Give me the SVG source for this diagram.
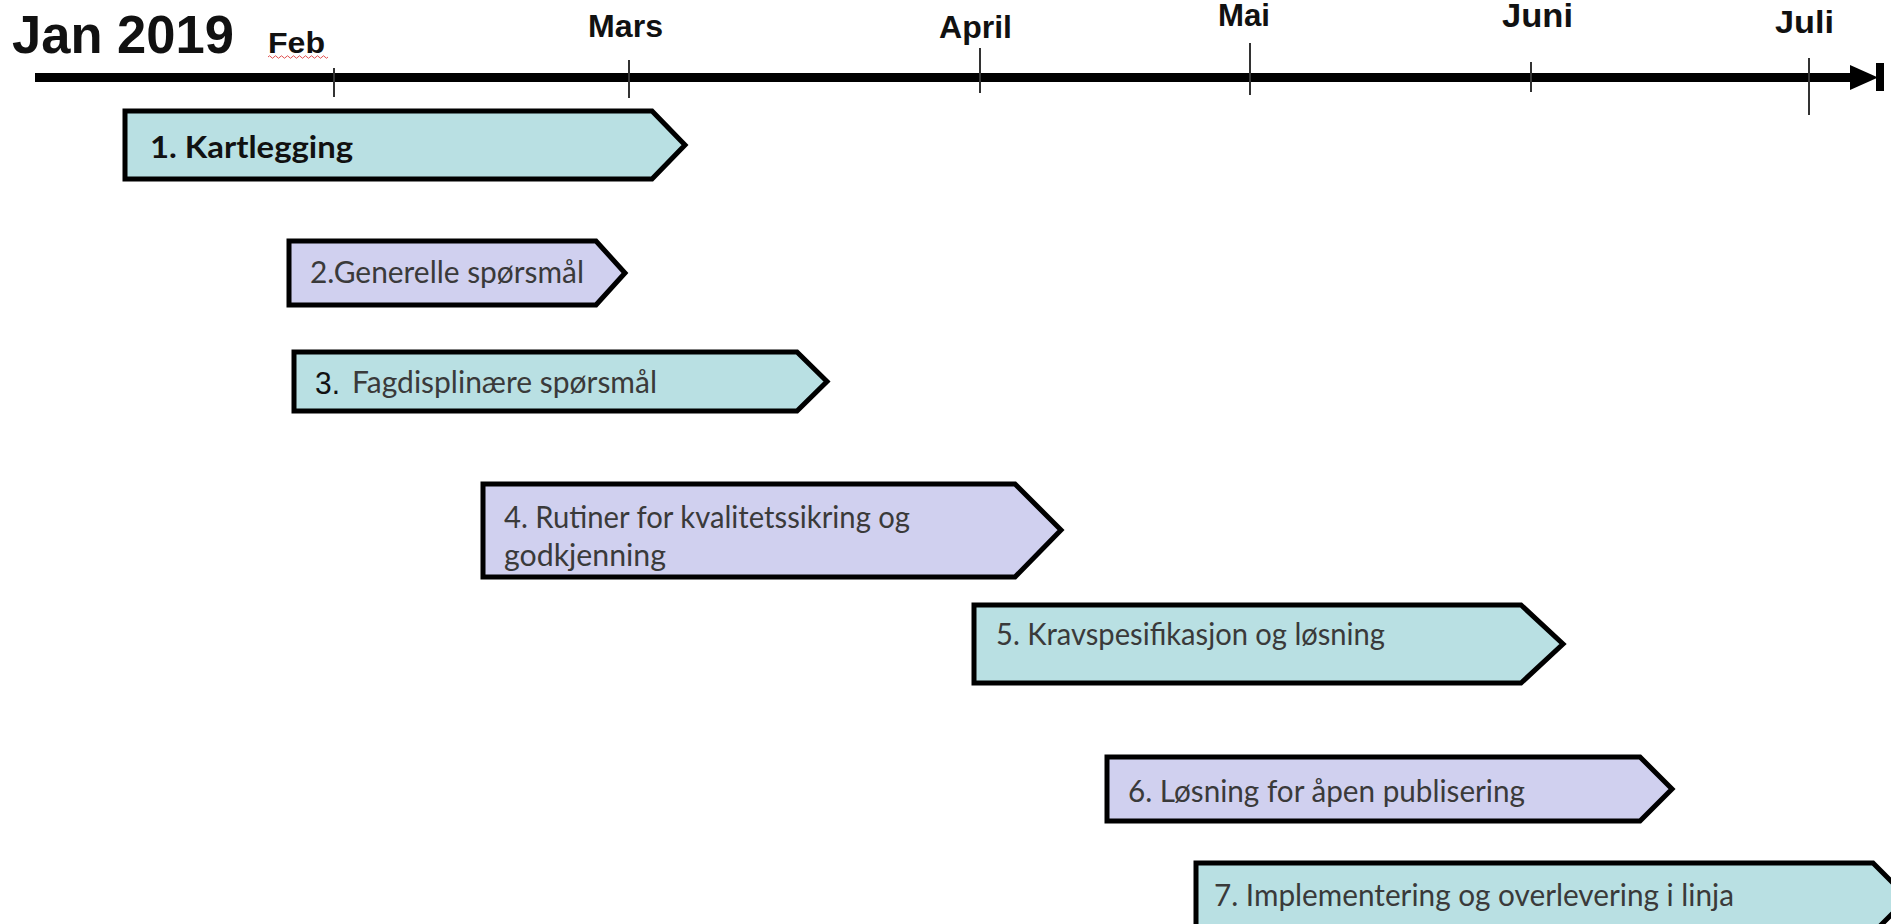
<svg xmlns="http://www.w3.org/2000/svg" width="1891" height="924" viewBox="0 0 1891 924">
<style>
.month{font-family:"Liberation Sans",Arial,sans-serif;font-weight:bold;fill:#111}
.tick{stroke:#333;stroke-width:2}
.box{stroke:#000;stroke-width:5;stroke-linejoin:miter}
.teal{fill:#b9e0e3}
.lav{fill:#d0d0ef}
.lbl{font-family:Lato,"Open Sans",sans-serif;font-size:30px;fill:#3a3a3a}
</style>
<rect width="1891" height="924" fill="#fff"/>
<g id="axis">
<line x1="35" y1="77.5" x2="1856" y2="77.5" stroke="#000" stroke-width="9"/>
<polygon points="1850,65 1878,77.5 1850,90" fill="#000"/>
<rect x="1876" y="63" width="8" height="28" fill="#000"/>
<line class="tick" x1="334" y1="68" x2="334" y2="97"/>
<line class="tick" x1="629" y1="60" x2="629" y2="98"/>
<line class="tick" x1="980" y1="48" x2="980" y2="93"/>
<line class="tick" x1="1250" y1="43" x2="1250" y2="95"/>
<line class="tick" x1="1531" y1="62" x2="1531" y2="92" stroke="#777"/>
<line class="tick" x1="1809" y1="58" x2="1809" y2="115"/>
</g>
<g id="labels">
<text class="month" x="12" y="53" font-size="54" textLength="222" lengthAdjust="spacingAndGlyphs">Jan 2019</text>
<text class="month" x="268" y="53" font-size="29" textLength="57" lengthAdjust="spacingAndGlyphs">Feb</text>
<path d="M268,57 q1.5,-2.5 3,0 t3,0 t3,0 t3,0 t3,0 t3,0 t3,0 t3,0 t3,0 t3,0 t3,0 t3,0 t3,0 t3,0 t3,0 t3,0 t3,0 t3,0 t3,0 t3,0" fill="none" stroke="#e05050" stroke-width="1"/>
<text class="month" x="588" y="37" font-size="31" textLength="75" lengthAdjust="spacingAndGlyphs">Mars</text>
<text class="month" x="939" y="38" font-size="32" textLength="73" lengthAdjust="spacingAndGlyphs">April</text>
<text class="month" x="1218" y="26" font-size="31" textLength="52" lengthAdjust="spacingAndGlyphs">Mai</text>
<text class="month" x="1502" y="27" font-size="33" textLength="71" lengthAdjust="spacingAndGlyphs">Juni</text>
<text class="month" x="1775" y="33" font-size="32" textLength="59" lengthAdjust="spacingAndGlyphs">Juli</text>
</g>
<g id="task1">
<polygon class="box teal" points="125,111 652,111 685,145 652,179 125,179"/>
<text class="lbl" x="150" y="158" font-weight="bold" style="fill:#111" textLength="203" lengthAdjust="spacingAndGlyphs">1. Kartlegging</text>
</g>
<g id="task2">
<polygon class="box lav" points="289,241 596,241 625,273 596,305 289,305"/>
<text class="lbl" x="310" y="283" textLength="274" lengthAdjust="spacingAndGlyphs">2.Generelle spørsmål</text>
</g>
<g id="task3">
<polygon class="box teal" points="294,352 797,352 827,381.5 797,411 294,411"/>
<text x="315" y="394" font-family="Liberation Sans,Arial,sans-serif" font-size="31" fill="#111" textLength="25" lengthAdjust="spacingAndGlyphs">3.</text>
<text class="lbl" x="352" y="393" textLength="305" lengthAdjust="spacingAndGlyphs">Fagdisplinære spørsmål</text>
</g>
<g id="task4">
<polygon class="box lav" points="483,484 1015,484 1061,530 1015,577 483,577"/>
<text class="lbl" x="504" y="528" textLength="406" lengthAdjust="spacingAndGlyphs">4. Rutiner for kvalitetssikring og</text>
<text class="lbl" x="504" y="566" textLength="162" lengthAdjust="spacingAndGlyphs">godkjenning</text>
</g>
<g id="task5">
<polygon class="box teal" points="974,605 1521,605 1563,644 1521,683 974,683"/>
<text class="lbl" x="996" y="645" textLength="389" lengthAdjust="spacingAndGlyphs">5. Kravspesifikasjon og løsning</text>
</g>
<g id="task6">
<polygon class="box lav" points="1107,757 1640,757 1672,789 1640,821 1107,821"/>
<text class="lbl" x="1128" y="802" textLength="397" lengthAdjust="spacingAndGlyphs">6. Løsning for åpen publisering</text>
</g>
<g id="task7">
<polygon class="box teal" points="1196,863 1873,863 1908,898 1873,933 1196,933"/>
<text class="lbl" x="1214" y="906" textLength="520" lengthAdjust="spacingAndGlyphs">7. Implementering og overlevering i linja</text>
</g>
</svg>
